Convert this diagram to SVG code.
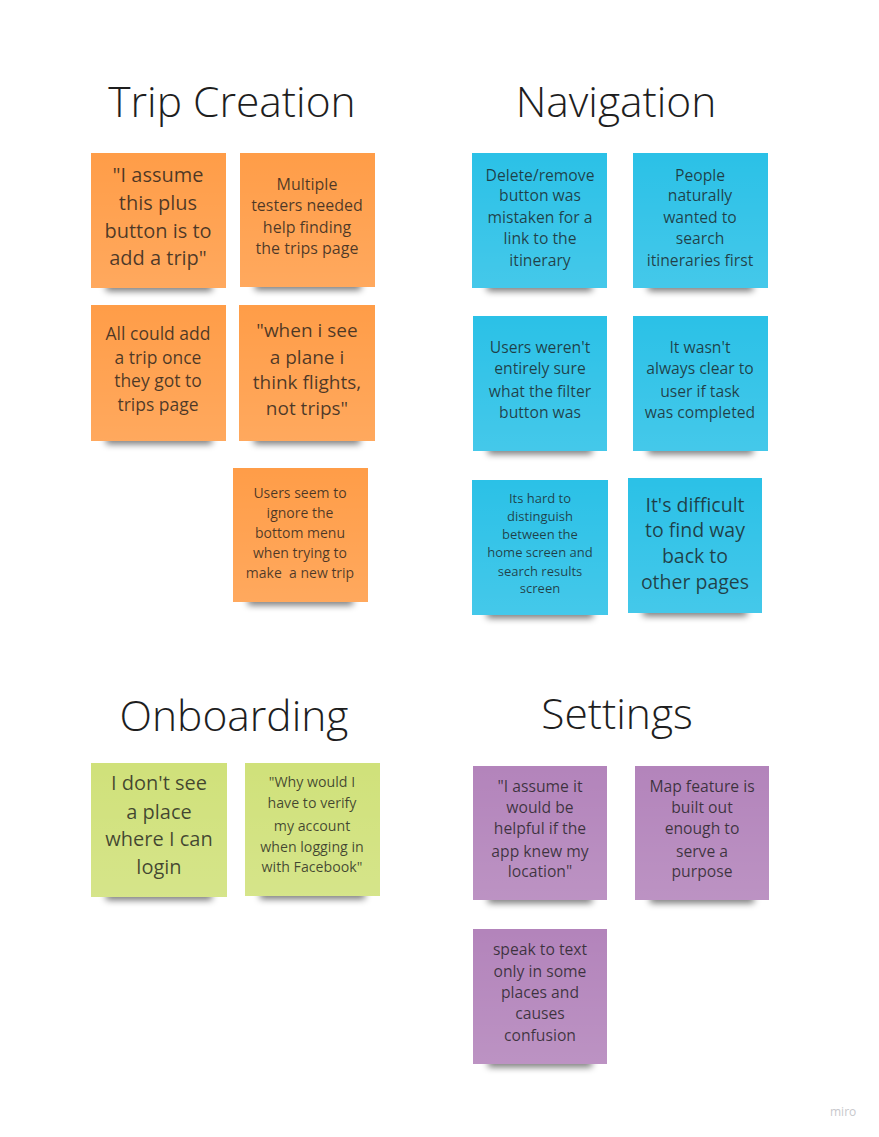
<svg xmlns="http://www.w3.org/2000/svg" width="879" height="1137" viewBox="0 0 879 1137">
  <style>
    .title { font-family: "Open Sans", "Noto Sans", sans-serif; font-size: 42.5px; font-weight: 300; fill: #1e1e1e; text-anchor: middle; }
    .note text { font-family: "Open Sans", "Noto Sans", sans-serif; fill: #1a1a1a; fill-opacity: 0.78; text-anchor: middle; white-space: pre; }
    .orange { fill: #ff9d48; }
    .blue { fill: #2bc1e7; }
    .green { fill: #d0e17a; }
    .violet { fill: #b384bb; }
    .shadow { fill: #000000; opacity: 0.55; filter: url(#soft); }
    .watermark { font-family: "Open Sans", "Noto Sans", sans-serif; font-size: 12px; fill: #c8c8cc; }
  </style>
  <defs>
    <filter id="soft" x="-20%" y="-200%" width="140%" height="500%">
      <feGaussianBlur stdDeviation="3.5"/>
    </filter>
    <linearGradient id="sheen" x1="0" y1="0" x2="0" y2="1">
      <stop offset="0" stop-color="#ffffff" stop-opacity="0"/>
      <stop offset="1" stop-color="#ffffff" stop-opacity="0.12"/>
    </linearGradient>
  </defs>

  <rect width="879" height="1137" fill="#ffffff"/>

  <!-- section headings -->
  <text class="title" x="232" y="117">Trip Creation</text>
  <text class="title" x="616" y="117">Navigation</text>
  <text class="title" x="234" y="731">Onboarding</text>
  <text class="title" x="617" y="729">Settings</text>

  <!-- Trip Creation -->
  <g id="trip-1" class="note">
    <rect class="shadow" x="106" y="282" width="106" height="9"/>
    <rect class="orange" x="91" y="153" width="135" height="135"/>
    <rect x="91" y="153" width="135" height="135" fill="url(#sheen)"/>
    <text font-size="20"><tspan x="158" y="182">"I assume</tspan><tspan x="158" y="210">this plus</tspan><tspan x="158" y="238">button is to</tspan><tspan x="158" y="265">add a trip"</tspan></text>
  </g>
  <g id="trip-2" class="note">
    <rect class="shadow" x="255" y="281" width="106" height="9"/>
    <rect class="orange" x="240" y="153" width="135" height="134"/>
    <rect x="240" y="153" width="135" height="134" fill="url(#sheen)"/>
    <text font-size="16"><tspan x="307" y="190">Multiple</tspan><tspan x="307" y="211">testers needed</tspan><tspan x="307" y="233">help finding</tspan><tspan x="307" y="254">the trips page</tspan></text>
  </g>
  <g id="trip-3" class="note">
    <rect class="shadow" x="106" y="435" width="106" height="9"/>
    <rect class="orange" x="91" y="305" width="135" height="136"/>
    <rect x="91" y="305" width="135" height="136" fill="url(#sheen)"/>
    <text font-size="17.5"><tspan x="158" y="340">All could add</tspan><tspan x="158" y="364">a trip once</tspan><tspan x="158" y="387">they got to</tspan><tspan x="158" y="411">trips page</tspan></text>
  </g>
  <g id="trip-4" class="note">
    <rect class="shadow" x="254" y="435" width="106" height="9"/>
    <rect class="orange" x="239" y="305" width="136" height="136"/>
    <rect x="239" y="305" width="136" height="136" fill="url(#sheen)"/>
    <text font-size="19"><tspan x="307" y="337">"when i see</tspan><tspan x="307" y="364">a plane i</tspan><tspan x="307" y="389">think flights,</tspan><tspan x="307" y="415">not trips"</tspan></text>
  </g>
  <g id="trip-5" class="note">
    <rect class="shadow" x="248" y="596" width="105" height="9"/>
    <rect class="orange" x="233" y="468" width="135" height="134"/>
    <rect x="233" y="468" width="135" height="134" fill="url(#sheen)"/>
    <text font-size="14"><tspan x="300" y="498">Users seem to</tspan><tspan x="300" y="518">ignore the</tspan><tspan x="300" y="538">bottom menu</tspan><tspan x="300" y="558">when trying to</tspan><tspan x="300" y="578">make  a new trip</tspan></text>
  </g>

  <!-- Navigation -->
  <g id="nav-1" class="note">
    <rect class="shadow" x="487" y="282" width="105" height="9"/>
    <rect class="blue" x="472" y="153" width="135" height="135"/>
    <rect x="472" y="153" width="135" height="135" fill="url(#sheen)"/>
    <text font-size="15.7"><tspan x="540" y="181">Delete/remove</tspan><tspan x="540" y="201">button was</tspan><tspan x="540" y="223">mistaken for a</tspan><tspan x="540" y="244">link to the</tspan><tspan x="540" y="266">itinerary</tspan></text>
  </g>
  <g id="nav-2" class="note">
    <rect class="shadow" x="648" y="282" width="105" height="9"/>
    <rect class="blue" x="633" y="153" width="135" height="135"/>
    <rect x="633" y="153" width="135" height="135" fill="url(#sheen)"/>
    <text font-size="15.7"><tspan x="700" y="181">People</tspan><tspan x="700" y="201">naturally</tspan><tspan x="700" y="223">wanted to</tspan><tspan x="700" y="244">search</tspan><tspan x="700" y="266">itineraries first</tspan></text>
  </g>
  <g id="nav-3" class="note">
    <rect class="shadow" x="488" y="445" width="104" height="9"/>
    <rect class="blue" x="473" y="316" width="134" height="135"/>
    <rect x="473" y="316" width="134" height="135" fill="url(#sheen)"/>
    <text font-size="15.7"><tspan x="540" y="353">Users weren't</tspan><tspan x="540" y="374">entirely sure</tspan><tspan x="540" y="397">what the filter</tspan><tspan x="540" y="418">button was</tspan></text>
  </g>
  <g id="nav-4" class="note">
    <rect class="shadow" x="648" y="445" width="105" height="9"/>
    <rect class="blue" x="633" y="316" width="135" height="135"/>
    <rect x="633" y="316" width="135" height="135" fill="url(#sheen)"/>
    <text font-size="15.7"><tspan x="700" y="353">It wasn't</tspan><tspan x="700" y="374">always clear to</tspan><tspan x="700" y="397">user if task</tspan><tspan x="700" y="418">was completed</tspan></text>
  </g>
  <g id="nav-5" class="note">
    <rect class="shadow" x="487" y="609" width="106" height="9"/>
    <rect class="blue" x="472" y="480" width="136" height="135"/>
    <rect x="472" y="480" width="136" height="135" fill="url(#sheen)"/>
    <text font-size="13"><tspan x="540" y="503">Its hard to</tspan><tspan x="540" y="521">distinguish</tspan><tspan x="540" y="539">between the</tspan><tspan x="540" y="557">home screen and</tspan><tspan x="540" y="576">search results</tspan><tspan x="540" y="593">screen</tspan></text>
  </g>
  <g id="nav-6" class="note">
    <rect class="shadow" x="643" y="607" width="104" height="9"/>
    <rect class="blue" x="628" y="478" width="134" height="135"/>
    <rect x="628" y="478" width="134" height="135" fill="url(#sheen)"/>
    <text font-size="19.5"><tspan x="695" y="512">It's difficult</tspan><tspan x="695" y="537">to find way</tspan><tspan x="695" y="563">back to</tspan><tspan x="695" y="589">other pages</tspan></text>
  </g>

  <!-- Onboarding -->
  <g id="onb-1" class="note">
    <rect class="shadow" x="106" y="891" width="106" height="9"/>
    <rect class="green" x="91" y="763" width="136" height="134"/>
    <rect x="91" y="763" width="136" height="134" fill="url(#sheen)"/>
    <text font-size="20"><tspan x="159" y="790">I don't see</tspan><tspan x="159" y="819">a place</tspan><tspan x="159" y="846">where I can</tspan><tspan x="159" y="874">login</tspan></text>
  </g>
  <g id="onb-2" class="note">
    <rect class="shadow" x="260" y="890" width="105" height="9"/>
    <rect class="green" x="245" y="763" width="135" height="133"/>
    <rect x="245" y="763" width="135" height="133" fill="url(#sheen)"/>
    <text font-size="14.2"><tspan x="312" y="787">"Why would I</tspan><tspan x="312" y="808">have to verify</tspan><tspan x="312" y="831">my account</tspan><tspan x="312" y="852">when logging in</tspan><tspan x="312" y="872">with Facebook"</tspan></text>
  </g>

  <!-- Settings -->
  <g id="set-1" class="note">
    <rect class="shadow" x="488" y="894" width="104" height="9"/>
    <rect class="violet" x="473" y="766" width="134" height="134"/>
    <rect x="473" y="766" width="134" height="134" fill="url(#sheen)"/>
    <text font-size="15.7"><tspan x="540" y="792">"I assume it</tspan><tspan x="540" y="813">would be</tspan><tspan x="540" y="834">helpful if the</tspan><tspan x="540" y="857">app knew my</tspan><tspan x="540" y="877">location"</tspan></text>
  </g>
  <g id="set-2" class="note">
    <rect class="shadow" x="650" y="894" width="104" height="9"/>
    <rect class="violet" x="635" y="766" width="134" height="134"/>
    <rect x="635" y="766" width="134" height="134" fill="url(#sheen)"/>
    <text font-size="15.7"><tspan x="702" y="792">Map feature is</tspan><tspan x="702" y="813">built out</tspan><tspan x="702" y="834">enough to</tspan><tspan x="702" y="857">serve a</tspan><tspan x="702" y="877">purpose</tspan></text>
  </g>
  <g id="set-3" class="note">
    <rect class="shadow" x="488" y="1058" width="104" height="9"/>
    <rect class="violet" x="473" y="929" width="134" height="135"/>
    <rect x="473" y="929" width="134" height="135" fill="url(#sheen)"/>
    <text font-size="15.7"><tspan x="540" y="955">speak to text</tspan><tspan x="540" y="977">only in some</tspan><tspan x="540" y="998">places and</tspan><tspan x="540" y="1019">causes</tspan><tspan x="540" y="1041">confusion</tspan></text>
  </g>

  <text class="watermark" x="830" y="1116">miro</text>
</svg>
